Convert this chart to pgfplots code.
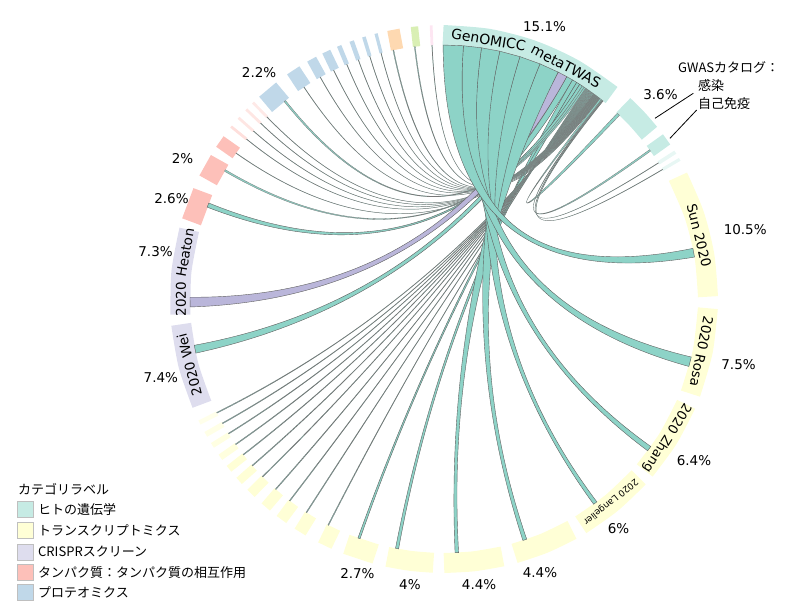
\documentclass[border=0pt]{standalone}
\usepackage{fontspec}
\setmainfont{DejaVu Sans}
\newfontfamily\jp{Noto Sans CJK JP}
\usepackage{pgfplots}
\pgfplotsset{compat=1.18}
\usepgfplotslibrary{polar}

\definecolor{ringTeal}{HTML}{C6EBE4}
\definecolor{ringYellow}{HTML}{FFFFD6}
\definecolor{ringPurple}{HTML}{DEDDEE}
\definecolor{ringPink}{HTML}{FDC0B9}
\definecolor{ringBlue}{HTML}{C0D8E9}
\definecolor{ringOrange}{HTML}{FED9B1}
\definecolor{ringGreen}{HTML}{D9EFB4}
\definecolor{ringRose}{HTML}{FDE6F2}
\definecolor{chordTeal}{HTML}{8DD3C7}
\definecolor{chordPurple}{HTML}{BAB6DA}
\definecolor{chordEdge}{HTML}{606060}

\newcommand{\pct}{\fontsize{13.5}{16}\selectfont}
% ribbon: source a1>a2 on GenOMICC, target b1>b2 (degrees)
\newcommand{\chord}[5]{%
  \fill[#5, draw=chordEdge, line width=0.4pt]
    (axis cs:#1,254) -- (axis cs:#2,254)
    .. controls (axis cs:#2,84.67) and (axis cs:#3,84.67) .. (axis cs:#3,254)
    -- (axis cs:#4,254)
    .. controls (axis cs:#4,84.67) and (axis cs:#1,84.67) .. (axis cs:#1,254) -- cycle;}
% same, hairline edge for the many thin ribbons
\newcommand{\thin}[5]{%
  \fill[#5, draw=chordEdge!85, line width=0.3pt]
    (axis cs:#1,254) -- (axis cs:#2,254)
    .. controls (axis cs:#2,84.67) and (axis cs:#3,84.67) .. (axis cs:#3,254)
    -- (axis cs:#4,254)
    .. controls (axis cs:#4,84.67) and (axis cs:#1,84.67) .. (axis cs:#1,254) -- cycle;}
% label set along the ring: angle, radius, size, text (tops point outward)
\newcommand{\ringlabel}[4]{%
  \node[anchor=base, inner sep=0pt, rotate=#1-90,
        font=\fontsize{#3}{#3}\selectfont] at (axis cs:#1,#2) {#4};}

\pgfplotsset{seg/.style={line width=20pt, smooth}}

\begin{document}
\begin{tikzpicture}
\begin{polaraxis}[
    width=600pt, height=600pt, scale only axis,
    xmin=0, xmax=360, ymin=0, ymax=300,
    hide axis, clip=false,
  ]
  \coordinate (O) at (axis cs:0,0);

  % ---- ring segments (angle, radius) ----
  \addplot[seg, color=ringTeal] coordinates {(90.2,264) (80.3,264) (70.4,264) (60.5,264) (50.6,264)};
  \addplot[seg, color=ringTeal] coordinates {(47.2,264) (43,264) (38.9,264)};
  \addplot[seg, color=ringTeal] coordinates {(37,264) (34.3,264)};
  \addplot[seg, color=ringTeal, opacity=0.4] coordinates {(32.8,264) (32.0,264)};
  \addplot[seg, color=ringTeal, opacity=0.4] coordinates {(31.0,264) (30.3,264)};
  \addplot[seg, color=ringYellow] coordinates {(27.6,264) (18.6,264) (9.5,264) (0.5,264)};
  \addplot[seg, color=ringYellow] coordinates {(-2,264) (-11.5,264) (-21,264)};
  \addplot[seg, color=ringYellow] coordinates {(-23.5,264) (-32,264) (-40.5,264)};
  \addplot[seg, color=ringYellow] coordinates {(-42.5,264) (-50.65,264) (-58.8,264)};
  \addplot[seg, color=ringYellow] coordinates {(-61,264) (-67.75,264) (-74.5,264)};
  \addplot[seg, color=ringYellow] coordinates {(-77.2,264) (-83.6,264) (-90,264)};
  \addplot[seg, color=ringYellow] coordinates {(-92.3,264) (-97.35,264) (-102.4,264)};
  \addplot[seg, color=ringYellow] coordinates {(-105,264) (-111.7,264)};
  \addplot[seg, color=ringYellow] coordinates {(-114.2,264) (-117.4,264)};
  \addplot[seg, color=ringYellow] coordinates {(-120.3,264) (-123.1,264)};
  \addplot[seg, color=ringYellow] coordinates {(-125.1,264) (-127.7,264)};
  \addplot[seg, color=ringYellow] coordinates {(-129.4,264) (-131.8,264)};
  \addplot[seg, color=ringYellow] coordinates {(-133.7,264) (-135.9,264)};
  \addplot[seg, color=ringYellow] coordinates {(-137.5,264) (-139.3,264)};
  \addplot[seg, color=ringYellow] coordinates {(-140.9,264) (-142.5,264)};
  \addplot[seg, color=ringYellow, opacity=0.8] coordinates {(-144.0,264) (-145.4,264)};
  \addplot[seg, color=ringYellow, opacity=0.7] coordinates {(-147.1,264) (-148.3,264)};
  \addplot[seg, color=ringYellow, opacity=0.6] coordinates {(-149.8,264) (-151.0,264)};
  \addplot[seg, color=ringYellow, opacity=0.5] coordinates {(-152.7,264) (-153.7,264)};
  \addplot[seg, color=ringPurple] coordinates {(203.5,264) (194.5,264) (185.5,264)};
  \addplot[seg, color=ringPurple] coordinates {(183.4,264) (174.1,264) (164.8,264)};
  \addplot[seg, color=ringPink] coordinates {(163,264) (156,264)};
  \addplot[seg, color=ringPink] coordinates {(153.3,264) (148.2,264)};
  \addplot[seg, color=ringPink] coordinates {(146.3,264) (143.5,264)};
  \addplot[seg, color=ringPink, opacity=0.5] coordinates {(141.3,264) (140.7,264)};
  \addplot[seg, color=ringPink, opacity=0.4] coordinates {(138.9,264) (138.3,264)};
  \addplot[seg, color=ringPink, opacity=0.4] coordinates {(136.5,264) (135.9,264)};
  \addplot[seg, color=ringPink, opacity=0.35] coordinates {(134.5,264) (133.9,264)};
  \addplot[seg, color=ringBlue] coordinates {(132.5,264) (127.7,264)};
  \addplot[seg, color=ringBlue] coordinates {(125,264) (121.8,264)};
  \addplot[seg, color=ringBlue] coordinates {(120,264) (117.8,264)};
  \addplot[seg, color=ringBlue] coordinates {(116.4,264) (114.5,264)};
  \addplot[seg, color=ringBlue] coordinates {(113,264) (112,264)};
  \addplot[seg, color=ringBlue] coordinates {(110.2,264) (109.2,264)};
  \addplot[seg, color=ringBlue] coordinates {(107.4,264) (106.6,264)};
  \addplot[seg, color=ringBlue] coordinates {(104.7,264) (104.0,264)};
  \addplot[seg, color=ringOrange] coordinates {(102,264) (99.3,264)};
  \addplot[seg, color=ringGreen] coordinates {(97,264) (95.4,264)};
  \addplot[seg, color=ringRose] coordinates {(93,264) (92.4,264)};

  % ---- thin ribbons ----
  \chord{61.1}{59.6}{192.3}{190.5}{chordTeal}
  \chord{59.6}{58.5}{-100.3}{-101.0}{chordTeal}
  \chord{58.5}{57.7}{-109.3}{-109.8}{chordTeal}
  \chord{57.7}{57.0}{158.8}{157.8}{chordTeal}
  \thin{57.0}{56.5}{129.0}{128.6}{chordTeal}
  \thin{56.5}{56.1}{149.8}{149.4}{chordTeal}
  \thin{56.1}{55.9}{-117.0}{-117.2}{chordTeal}
  \thin{55.9}{55.7}{-122.7}{-122.9}{chordTeal}
  \thin{55.7}{55.5}{-127.3}{-127.5}{chordTeal}
  \thin{55.5}{55.3}{-131.4}{-131.6}{chordTeal}
  \thin{55.3}{55.1}{-135.5}{-135.7}{chordTeal}
  \thin{55.1}{54.9}{-138.9}{-139.1}{chordTeal}
  \thin{54.9}{54.7}{-142.1}{-142.3}{chordTeal}
  \thin{54.7}{54.5}{-145.0}{-145.2}{chordTeal}
  \thin{54.5}{54.3}{-147.9}{-148.1}{chordTeal}
  \thin{54.3}{54.1}{-150.6}{-150.8}{chordTeal}
  \thin{54.1}{53.9}{-153.3}{-153.5}{chordTeal}
  \thin{53.9}{53.78}{145.0}{144.9}{chordTeal}
  \thin{53.78}{53.66}{141.05}{140.95}{chordTeal}
  \thin{53.66}{53.54}{138.65}{138.55}{chordTeal}
  \thin{53.54}{53.42}{136.25}{136.15}{chordTeal}
  \thin{53.42}{53.30}{134.25}{134.15}{chordTeal}
  \thin{53.30}{53.18}{123.5}{123.4}{chordTeal}
  \thin{53.18}{53.06}{119.2}{119.1}{chordTeal}
  \thin{53.06}{52.94}{115.8}{115.7}{chordTeal}
  \thin{52.94}{52.82}{112.55}{112.45}{chordTeal}
  \thin{52.82}{52.70}{109.75}{109.65}{chordTeal}
  \thin{52.70}{52.58}{107.05}{106.95}{chordTeal}
  \thin{52.58}{52.46}{104.4}{104.3}{chordTeal}
  \thin{52.46}{52.34}{101.6}{101.4}{chordTeal}
  \thin{52.34}{52.22}{96.7}{96.5}{chordTeal}
  \thin{52.22}{52.10}{92.75}{92.65}{chordTeal}
  \thin{52.10}{51.70}{47.0}{46.3}{chordTeal}
  \thin{51.70}{51.50}{36.0}{35.6}{chordTeal}
  \thin{51.50}{51.35}{32.45}{32.35}{chordTeal}
  \thin{51.35}{51.20}{30.7}{30.6}{chordTeal}

  % ---- wide ribbons ----
  \chord{63.3}{61.1}{181.8}{179.6}{chordPurple}
  \chord{67.8}{63.3}{-86.7}{-87.5}{chordTeal}
  \chord{72.6}{67.8}{-71.0}{-71.9}{chordTeal}
  \chord{77.3}{72.6}{-53.0}{-53.9}{chordTeal}
  \chord{81.5}{77.3}{-35.5}{-36.7}{chordTeal}
  \chord{85.6}{81.5}{-13.2}{-15.4}{chordTeal}
  \chord{90.2}{85.6}{11.5}{9.5}{chordTeal}

  % ---- labels on the ring ----
  \ringlabel{80.25}{258}{14}{GenOMICC}
  \ringlabel{62.35}{258}{14}{metaTWAS}
  \ringlabel{14}{258}{13.5}{Sun 2020}
  \ringlabel{-11.5}{258}{13.5}{2020 Rosa}
  \ringlabel{-32}{259}{13}{2020 Zhang}
  \ringlabel{-50.6}{260}{9}{2020 Langelier}
  \ringlabel{180}{258}{13.5}{2020}
  \ringlabel{169.85}{258}{13.5}{Heaton}
  \ringlabel{194.5}{258}{13.5}{2020 Wei}

  % ---- percentages ----
  \node[font=\pct] at (axis cs:69.7,290) {15.1\%};
  \node[font=\pct] at (axis cs:43.4,298) {3.6\%};
  \node[font=\pct] at (axis cs:12.9,309) {10.5\%};
  \node[font=\pct] at (axis cs:-12.5,301.7) {7.5\%};
  \node[font=\pct] at (axis cs:-32.8,297.4) {6.4\%};
  \node[font=\pct] at (axis cs:-52.7,288) {6\%};
  \node[font=\pct] at (axis cs:-70.7,290.3) {4.4\%};
  \node[font=\pct] at (axis cs:-83,288) {4.4\%};
  \node[font=\pct] at (axis cs:-96.8,288) {4\%};
  \node[font=\pct] at (axis cs:-107.5,288) {2.7\%};
  \node[font=\pct] at (axis cs:195.6,294) {7.4\%};
  \node[font=\pct] at (axis cs:170.7,292.3) {7.3\%};
  \node[font=\pct] at (axis cs:159.8,290.4) {2.6\%};
  \node[font=\pct] at (axis cs:151.7,297) {2\%};
  \node[font=\pct] at (axis cs:129.3,292) {2.2\%};
\end{polaraxis}

% GWAS annotation
\node[anchor=west, font=\jp\fontsize{13}{15}\selectfont, inner sep=0pt] at ([shift={(234pt,232pt)}]O) {GWASカタログ：};
\node[anchor=west, font=\jp\fontsize{13}{15}\selectfont, inner sep=0pt] at ([shift={(254pt,213pt)}]O) {感染};
\node[anchor=west, font=\jp\fontsize{13}{15}\selectfont, inner sep=0pt] at ([shift={(254pt,195pt)}]O) {自己免疫};
\draw[line width=0.8pt] ([shift={(249.3pt,205.7pt)}]O) -- ([shift={(211pt,180.7pt)}]O);
\draw[line width=0.8pt] ([shift={(252.7pt,189pt)}]O) -- ([shift={(226pt,160.7pt)}]O);

% legend
\node[anchor=west, font=\jp\fontsize{13}{15}\selectfont, inner sep=0pt] at ([shift={(-426pt,-190pt)}]O) {カテゴリラベル};
\foreach \yy/\cc/\tt in {-210.5/ringTeal/ヒトの遺伝学,
                         -231.5/ringYellow/トランスクリプトミクス,
                         -253/ringPurple/CRISPRスクリーン,
                         -273.5/ringPink/タンパク質：タンパク質の相互作用,
                         -293.5/ringBlue/プロテオミクス}{
  \draw[draw=black!25, fill=\cc, line width=0.6pt] ([shift={(-427pt,\yy pt-8pt)}]O) rectangle ([shift={(-411pt,\yy pt+8pt)}]O);
  \node[anchor=west, font=\jp\fontsize{13}{15}\selectfont, inner sep=0pt] at ([shift={(-406pt,\yy pt)}]O) {\tt};
}

\pgfresetboundingbox
\path[use as bounding box] ([shift={(-444pt,-315pt)}]O) rectangle ([shift={(356pt,299pt)}]O);
\end{tikzpicture}
\end{document}
